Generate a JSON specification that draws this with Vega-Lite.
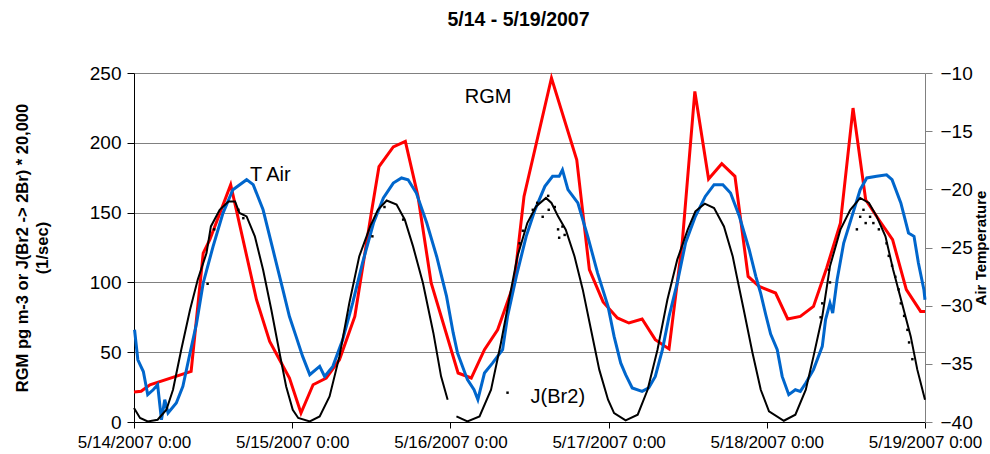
{
  "$schema": "https://vega.github.io/schema/vega-lite/v6.json",
  "width": 791,
  "height": 349,
  "autosize": {"type": "none"},
  "padding": {"left": 134, "top": 73, "right": 65, "bottom": 32},
  "background": "white",
  "config": {
    "font": "Liberation Sans",
    "view": {"stroke": null},
    "axis": {"labelFont": "Liberation Sans", "titleFont": "Liberation Sans", "labelColor": "black", "titleColor": "black"}
  },
  "title": {"text": "5/14 - 5/19/2007", "fontSize": 19.5, "fontWeight": "bold", "font": "Liberation Sans", "color": "black", "offset": 34, "dx": -11},
  "datasets": {
    "rgm": [
      {"t": "2007-05-14T00:00", "v": 21.5}, {"t": "2007-05-14T01:05", "v": 22}, {"t": "2007-05-14T02:25", "v": 26.7},
      {"t": "2007-05-14T08:40", "v": 36.2}, {"t": "2007-05-14T10:30", "v": 121}, {"t": "2007-05-14T11:30", "v": 130.6},
      {"t": "2007-05-14T14:40", "v": 170}, {"t": "2007-05-14T18:35", "v": 87.6}, {"t": "2007-05-14T20:35", "v": 57.7},
      {"t": "2007-05-14T22:05", "v": 44.6}, {"t": "2007-05-14T23:35", "v": 31.5}, {"t": "2007-05-15T01:20", "v": 6.4},
      {"t": "2007-05-15T03:10", "v": 26.7}, {"t": "2007-05-15T05:10", "v": 31.5}, {"t": "2007-05-15T07:10", "v": 44.6},
      {"t": "2007-05-15T09:30", "v": 75.6}, {"t": "2007-05-15T12:00", "v": 149.7}, {"t": "2007-05-15T13:10", "v": 183},
      {"t": "2007-05-15T15:20", "v": 197}, {"t": "2007-05-15T17:10", "v": 201}, {"t": "2007-05-15T19:05", "v": 161.6},
      {"t": "2007-05-15T21:05", "v": 99.6}, {"t": "2007-05-16T01:10", "v": 35.1}, {"t": "2007-05-16T03:10", "v": 31.5},
      {"t": "2007-05-16T05:10", "v": 51.8}, {"t": "2007-05-16T07:10", "v": 66.1}, {"t": "2007-05-16T09:40", "v": 99.6},
      {"t": "2007-05-16T11:10", "v": 161.6}, {"t": "2007-05-16T15:20", "v": 246.4}, {"t": "2007-05-16T19:10", "v": 187.9},
      {"t": "2007-05-16T21:05", "v": 109.1}, {"t": "2007-05-16T23:10", "v": 86}, {"t": "2007-05-17T01:20", "v": 74.5},
      {"t": "2007-05-17T03:05", "v": 70.9}, {"t": "2007-05-17T05:05", "v": 73.8}, {"t": "2007-05-17T07:05", "v": 59},
      {"t": "2007-05-17T09:10", "v": 52.3}, {"t": "2007-05-17T11:10", "v": 128.2}, {"t": "2007-05-17T13:05", "v": 236.8},
      {"t": "2007-05-17T15:10", "v": 174}, {"t": "2007-05-17T17:10", "v": 185}, {"t": "2007-05-17T19:10", "v": 176},
      {"t": "2007-05-17T21:10", "v": 104.3}, {"t": "2007-05-17T22:50", "v": 97.1}, {"t": "2007-05-18T01:20", "v": 92.4},
      {"t": "2007-05-18T03:10", "v": 73.8}, {"t": "2007-05-18T05:05", "v": 75.6}, {"t": "2007-05-18T07:05", "v": 82.8},
      {"t": "2007-05-18T09:05", "v": 110.3}, {"t": "2007-05-18T11:10", "v": 142.5}, {"t": "2007-05-18T13:05", "v": 224.9},
      {"t": "2007-05-18T15:00", "v": 159.2}, {"t": "2007-05-18T17:00", "v": 144.9}, {"t": "2007-05-18T19:05", "v": 130.6},
      {"t": "2007-05-18T21:10", "v": 94.8}, {"t": "2007-05-18T23:20", "v": 79.2}, {"t": "2007-05-19T00:00", "v": 79.2}
    ],
    "tair": [
      {"t": "2007-05-14T00:05", "T": -32.07}, {"t": "2007-05-14T00:35", "T": -34.65}, {"t": "2007-05-14T01:25", "T": -35.66},
      {"t": "2007-05-14T02:05", "T": -37.65}, {"t": "2007-05-14T02:55", "T": -37.23}, {"t": "2007-05-14T03:35", "T": -36.8},
      {"t": "2007-05-14T04:10", "T": -39.81}, {"t": "2007-05-14T04:40", "T": -38.08}, {"t": "2007-05-14T05:10", "T": -39.23},
      {"t": "2007-05-14T06:25", "T": -38.37}, {"t": "2007-05-14T07:25", "T": -36.94}, {"t": "2007-05-14T08:30", "T": -34.07},
      {"t": "2007-05-14T09:30", "T": -31.49}, {"t": "2007-05-14T10:30", "T": -28.05}, {"t": "2007-05-14T12:00", "T": -24.9},
      {"t": "2007-05-14T13:30", "T": -22.04}, {"t": "2007-05-14T15:00", "T": -20.03}, {"t": "2007-05-14T17:05", "T": -19.17},
      {"t": "2007-05-14T18:05", "T": -19.6}, {"t": "2007-05-14T19:35", "T": -21.76}, {"t": "2007-05-14T21:05", "T": -25.19},
      {"t": "2007-05-14T22:35", "T": -28.62}, {"t": "2007-05-14T23:35", "T": -30.93}, {"t": "2007-05-15T00:35", "T": -32.64},
      {"t": "2007-05-15T01:35", "T": -34.36}, {"t": "2007-05-15T02:40", "T": -35.93}, {"t": "2007-05-15T04:10", "T": -35.22},
      {"t": "2007-05-15T04:55", "T": -36.08}, {"t": "2007-05-15T06:10", "T": -35.22}, {"t": "2007-05-15T07:40", "T": -32.92},
      {"t": "2007-05-15T09:10", "T": -29.78}, {"t": "2007-05-15T10:40", "T": -26.33}, {"t": "2007-05-15T12:20", "T": -22.9},
      {"t": "2007-05-15T13:50", "T": -20.74}, {"t": "2007-05-15T15:20", "T": -19.46}, {"t": "2007-05-15T16:35", "T": -19.02},
      {"t": "2007-05-15T17:35", "T": -19.17}, {"t": "2007-05-15T18:50", "T": -20.32}, {"t": "2007-05-15T20:25", "T": -22.9},
      {"t": "2007-05-15T21:55", "T": -25.77}, {"t": "2007-05-15T23:25", "T": -29.2}, {"t": "2007-05-16T00:25", "T": -32.32},
      {"t": "2007-05-16T01:05", "T": -34.07}, {"t": "2007-05-16T02:35", "T": -36.36}, {"t": "2007-05-16T03:35", "T": -37.23},
      {"t": "2007-05-16T04:10", "T": -38.08}, {"t": "2007-05-16T05:10", "T": -35.79}, {"t": "2007-05-16T06:25", "T": -34.92},
      {"t": "2007-05-16T07:55", "T": -33.78}, {"t": "2007-05-16T08:40", "T": -30.93}, {"t": "2007-05-16T10:00", "T": -27.48},
      {"t": "2007-05-16T11:30", "T": -24.04}, {"t": "2007-05-16T12:50", "T": -21.76}, {"t": "2007-05-16T14:20", "T": -19.74},
      {"t": "2007-05-16T15:30", "T": -18.88}, {"t": "2007-05-16T16:30", "T": -18.88}, {"t": "2007-05-16T17:00", "T": -18.32},
      {"t": "2007-05-16T17:50", "T": -20.03}, {"t": "2007-05-16T19:20", "T": -21.17}, {"t": "2007-05-16T20:50", "T": -24.04},
      {"t": "2007-05-16T22:20", "T": -27.2}, {"t": "2007-05-16T23:55", "T": -30.06}, {"t": "2007-05-17T00:50", "T": -32.64},
      {"t": "2007-05-17T01:50", "T": -34.92}, {"t": "2007-05-17T02:35", "T": -35.93}, {"t": "2007-05-17T03:35", "T": -37.07},
      {"t": "2007-05-17T05:05", "T": -37.37}, {"t": "2007-05-17T06:05", "T": -37.07}, {"t": "2007-05-17T07:05", "T": -36.08},
      {"t": "2007-05-17T08:10", "T": -33.78}, {"t": "2007-05-17T09:10", "T": -30.93}, {"t": "2007-05-17T10:25", "T": -28.05},
      {"t": "2007-05-17T11:40", "T": -24.62}, {"t": "2007-05-17T13:10", "T": -22.32}, {"t": "2007-05-17T14:40", "T": -20.61},
      {"t": "2007-05-17T16:00", "T": -19.6}, {"t": "2007-05-17T17:20", "T": -19.6}, {"t": "2007-05-17T18:30", "T": -20.32},
      {"t": "2007-05-17T19:50", "T": -22.32}, {"t": "2007-05-17T21:20", "T": -25.19}, {"t": "2007-05-17T22:20", "T": -27.48},
      {"t": "2007-05-17T23:05", "T": -28.96}, {"t": "2007-05-17T23:50", "T": -30.76}, {"t": "2007-05-18T00:35", "T": -32.44},
      {"t": "2007-05-18T01:35", "T": -33.78}, {"t": "2007-05-18T02:20", "T": -36.08}, {"t": "2007-05-18T03:20", "T": -37.65},
      {"t": "2007-05-18T04:20", "T": -37.23}, {"t": "2007-05-18T05:05", "T": -37.37}, {"t": "2007-05-18T05:55", "T": -36.65},
      {"t": "2007-05-18T07:05", "T": -35.5}, {"t": "2007-05-18T08:25", "T": -33.5}, {"t": "2007-05-18T08:55", "T": -31.2},
      {"t": "2007-05-18T09:35", "T": -29.78}, {"t": "2007-05-18T10:00", "T": -30.63}, {"t": "2007-05-18T10:40", "T": -27.77},
      {"t": "2007-05-18T11:40", "T": -24.62}, {"t": "2007-05-18T12:55", "T": -22.32}, {"t": "2007-05-18T14:10", "T": -20.03},
      {"t": "2007-05-18T15:10", "T": -19.02}, {"t": "2007-05-18T16:40", "T": -18.88}, {"t": "2007-05-18T18:10", "T": -18.75},
      {"t": "2007-05-18T19:00", "T": -19.17}, {"t": "2007-05-18T20:20", "T": -21.17}, {"t": "2007-05-18T21:30", "T": -23.75},
      {"t": "2007-05-18T22:20", "T": -24.04}, {"t": "2007-05-18T23:00", "T": -26.33}, {"t": "2007-05-18T23:50", "T": -28.62},
      {"t": "2007-05-19T00:00", "T": -29.49}
    ],
    "jbr": [
      {"t": "2007-05-14T00:00", "v": 10, "s": 1}, {"t": "2007-05-14T00:55", "v": 2.9, "s": 1}, {"t": "2007-05-14T02:05", "v": 0.4, "s": 1},
      {"t": "2007-05-14T03:35", "v": 1.6, "s": 1}, {"t": "2007-05-14T04:55", "v": 8.8, "s": 1}, {"t": "2007-05-14T05:55", "v": 23.1, "s": 1},
      {"t": "2007-05-14T07:10", "v": 51.8, "s": 1}, {"t": "2007-05-14T08:30", "v": 80.4, "s": 1}, {"t": "2007-05-14T09:40", "v": 101.9, "s": 1},
      {"t": "2007-05-14T11:00", "v": 121, "s": 1}, {"t": "2007-05-14T11:40", "v": 140.1, "s": 1}, {"t": "2007-05-14T13:00", "v": 152, "s": 1},
      {"t": "2007-05-14T14:20", "v": 158, "s": 1}, {"t": "2007-05-14T15:20", "v": 158, "s": 1}, {"t": "2007-05-14T16:00", "v": 149.7, "s": 1},
      {"t": "2007-05-14T17:05", "v": 147.3, "s": 1}, {"t": "2007-05-14T18:20", "v": 133, "s": 1}, {"t": "2007-05-14T19:35", "v": 109.1, "s": 1},
      {"t": "2007-05-14T20:50", "v": 80.4, "s": 1}, {"t": "2007-05-14T22:05", "v": 49.4, "s": 1}, {"t": "2007-05-14T23:05", "v": 25.5, "s": 1},
      {"t": "2007-05-15T00:05", "v": 8.8, "s": 1}, {"t": "2007-05-15T00:55", "v": 2.9, "s": 1}, {"t": "2007-05-15T02:40", "v": 0.4, "s": 1},
      {"t": "2007-05-15T04:10", "v": 4, "s": 1}, {"t": "2007-05-15T05:40", "v": 18.3, "s": 1}, {"t": "2007-05-15T07:10", "v": 47, "s": 1},
      {"t": "2007-05-15T08:40", "v": 85.2, "s": 1}, {"t": "2007-05-15T10:10", "v": 118.6, "s": 1}, {"t": "2007-05-15T11:50", "v": 140.1, "s": 1},
      {"t": "2007-05-15T13:00", "v": 152, "s": 1}, {"t": "2007-05-15T14:20", "v": 158.7, "s": 1}, {"t": "2007-05-15T15:50", "v": 155.7, "s": 1},
      {"t": "2007-05-15T17:05", "v": 144.9, "s": 1}, {"t": "2007-05-15T18:20", "v": 125.8, "s": 1}, {"t": "2007-05-15T19:50", "v": 99.6, "s": 1},
      {"t": "2007-05-15T21:25", "v": 63.8, "s": 1}, {"t": "2007-05-15T22:35", "v": 32.7, "s": 1}, {"t": "2007-05-15T23:35", "v": 16, "s": 1},
      {"t": "2007-05-16T00:55", "v": 4, "s": 2}, {"t": "2007-05-16T02:35", "v": 0.4, "s": 2}, {"t": "2007-05-16T04:25", "v": 4, "s": 2},
      {"t": "2007-05-16T06:10", "v": 23.1, "s": 2}, {"t": "2007-05-16T07:40", "v": 56.6, "s": 2}, {"t": "2007-05-16T09:00", "v": 90, "s": 2},
      {"t": "2007-05-16T10:10", "v": 118.6, "s": 2}, {"t": "2007-05-16T11:40", "v": 142.5, "s": 2}, {"t": "2007-05-16T13:00", "v": 154.4, "s": 2},
      {"t": "2007-05-16T14:30", "v": 160.5, "s": 2}, {"t": "2007-05-16T15:20", "v": 156.9, "s": 2}, {"t": "2007-05-16T16:20", "v": 147.3, "s": 2},
      {"t": "2007-05-16T17:30", "v": 137.8, "s": 2}, {"t": "2007-05-16T18:50", "v": 118.6, "s": 2}, {"t": "2007-05-16T20:05", "v": 94.8, "s": 2},
      {"t": "2007-05-16T21:20", "v": 66.1, "s": 2}, {"t": "2007-05-16T22:35", "v": 37.5, "s": 2}, {"t": "2007-05-16T23:55", "v": 16, "s": 2},
      {"t": "2007-05-17T00:50", "v": 6.4, "s": 2}, {"t": "2007-05-17T02:35", "v": 1.1, "s": 2}, {"t": "2007-05-17T04:25", "v": 5.2, "s": 2},
      {"t": "2007-05-17T05:55", "v": 23.1, "s": 2}, {"t": "2007-05-17T07:25", "v": 51.8, "s": 2}, {"t": "2007-05-17T08:55", "v": 87.6, "s": 2},
      {"t": "2007-05-17T10:25", "v": 116.3, "s": 2}, {"t": "2007-05-17T12:00", "v": 137.8, "s": 2}, {"t": "2007-05-17T13:10", "v": 150.9, "s": 2},
      {"t": "2007-05-17T14:35", "v": 156.4, "s": 2}, {"t": "2007-05-17T16:00", "v": 153.3, "s": 2}, {"t": "2007-05-17T17:30", "v": 140.1, "s": 2},
      {"t": "2007-05-17T18:50", "v": 118.6, "s": 2}, {"t": "2007-05-17T19:30", "v": 103.2, "s": 2}, {"t": "2007-05-17T20:30", "v": 80.4, "s": 2},
      {"t": "2007-05-17T21:50", "v": 49.4, "s": 2}, {"t": "2007-05-17T23:05", "v": 23.1, "s": 2}, {"t": "2007-05-18T00:20", "v": 7.6, "s": 2},
      {"t": "2007-05-18T02:35", "v": 0.9, "s": 2}, {"t": "2007-05-18T04:20", "v": 5.2, "s": 2}, {"t": "2007-05-18T05:55", "v": 23.1, "s": 2},
      {"t": "2007-05-18T07:05", "v": 47, "s": 2}, {"t": "2007-05-18T08:25", "v": 75.6, "s": 2}, {"t": "2007-05-18T09:35", "v": 111.5, "s": 2},
      {"t": "2007-05-18T11:10", "v": 137.8, "s": 2}, {"t": "2007-05-18T12:40", "v": 152, "s": 2}, {"t": "2007-05-18T14:10", "v": 160.5, "s": 2},
      {"t": "2007-05-18T15:30", "v": 156.9, "s": 2}, {"t": "2007-05-18T16:40", "v": 147.3, "s": 2}, {"t": "2007-05-18T18:00", "v": 133, "s": 2},
      {"t": "2007-05-18T19:10", "v": 109.1, "s": 2}, {"t": "2007-05-18T20:30", "v": 85.2, "s": 2}, {"t": "2007-05-18T21:50", "v": 61.3, "s": 2},
      {"t": "2007-05-18T22:50", "v": 37.5, "s": 2}, {"t": "2007-05-19T00:00", "v": 16, "s": 2}
    ],
    "jnoise": [
      {"t": "2007-05-14T11:10", "v": 99}, {"t": "2007-05-14T12:10", "v": 138}, {"t": "2007-05-14T15:50", "v": 152}, {"t": "2007-05-14T16:35", "v": 146},
      {"t": "2007-05-15T12:10", "v": 133}, {"t": "2007-05-15T14:00", "v": 154}, {"t": "2007-05-15T16:50", "v": 145},
      {"t": "2007-05-16T08:40", "v": 21}, {"t": "2007-05-16T10:30", "v": 128}, {"t": "2007-05-16T11:00", "v": 137}, {"t": "2007-05-16T12:30", "v": 152},
      {"t": "2007-05-16T13:10", "v": 157}, {"t": "2007-05-16T14:00", "v": 147}, {"t": "2007-05-16T14:50", "v": 162}, {"t": "2007-05-16T14:55", "v": 152},
      {"t": "2007-05-16T15:50", "v": 154}, {"t": "2007-05-16T16:20", "v": 138}, {"t": "2007-05-16T16:30", "v": 132}, {"t": "2007-05-16T17:00", "v": 140},
      {"t": "2007-05-16T17:20", "v": 134},
      {"t": "2007-05-18T08:10", "v": 75}, {"t": "2007-05-18T08:25", "v": 85}, {"t": "2007-05-18T09:25", "v": 109}, {"t": "2007-05-18T09:35", "v": 100},
      {"t": "2007-05-18T13:40", "v": 138}, {"t": "2007-05-18T14:10", "v": 147}, {"t": "2007-05-18T14:40", "v": 152}, {"t": "2007-05-18T15:00", "v": 142.5},
      {"t": "2007-05-18T15:40", "v": 147}, {"t": "2007-05-18T16:10", "v": 142.5}, {"t": "2007-05-18T17:00", "v": 138}, {"t": "2007-05-18T18:10", "v": 128},
      {"t": "2007-05-18T18:30", "v": 119}, {"t": "2007-05-18T19:00", "v": 112}, {"t": "2007-05-18T19:30", "v": 104}, {"t": "2007-05-18T20:00", "v": 95},
      {"t": "2007-05-18T20:20", "v": 85}, {"t": "2007-05-18T20:50", "v": 76}, {"t": "2007-05-18T21:20", "v": 66}, {"t": "2007-05-18T21:35", "v": 57},
      {"t": "2007-05-18T22:05", "v": 45}
    ],
    "labels": [
      {"t": "2007-05-14T17:35", "v": 177, "label": "T Air"},
      {"t": "2007-05-16T02:10", "v": 233, "label": "RGM"},
      {"t": "2007-05-16T12:10", "v": 18, "label": "J(Br2)"}
    ]
  },
  "encoding": {
    "x": {
      "field": "t", "type": "temporal",
      "scale": {"domain": [{"year": 2007, "month": 5, "date": 14}, {"year": 2007, "month": 5, "date": 19}], "nice": false},
      "axis": {
        "title": null,
        "values": [
          {"year": 2007, "month": 5, "date": 14}, {"year": 2007, "month": 5, "date": 15}, {"year": 2007, "month": 5, "date": 16},
          {"year": 2007, "month": 5, "date": 17}, {"year": 2007, "month": 5, "date": 18}, {"year": 2007, "month": 5, "date": 19}
        ],
        "format": "%-m/%-d/%Y %-H:%M",
        "labelFontSize": 17, "labelFlush": false, "labelOverlap": false,
        "tickSize": 6, "tickColor": "black", "domainColor": "black", "labelPadding": 6,
        "grid": false
      }
    }
  },
  "layer": [
    {
      "data": {"name": "rgm"},
      "mark": {"type": "line", "color": "#FF0000", "strokeWidth": 3},
      "encoding": {
        "y": {
          "field": "v", "type": "quantitative",
          "scale": {"domain": [0, 250], "nice": false, "zero": false},
          "axis": {
            "title": ["RGM  pg m-3 or  J(Br2 -> 2Br) * 20,000", "(1/sec)"],
            "titleFontSize": 16.5, "titleFontWeight": "bold", "titlePadding": 39, "titleLineHeight": 20,
            "values": [0, 50, 100, 150, 200, 250],
            "labelFontSize": 19, "tickSize": 7, "labelPadding": 6,
            "tickColor": "black", "domainColor": "black",
            "grid": true, "gridColor": "#808080", "gridWidth": 1, "gridOpacity": 1
          }
        }
      }
    },
    {
      "data": {"name": "tair"},
      "mark": {"type": "line", "color": "#0066CC", "strokeWidth": 3},
      "encoding": {
        "y": {
          "field": "T", "type": "quantitative",
          "scale": {"domain": [-40, -10], "nice": false, "zero": false},
          "axis": {
            "orient": "right",
            "title": "Air Temperature",
            "titleFontSize": 15, "titleFontWeight": "bold", "titleAngle": -90, "titleBaseline": "top", "titlePadding": 1,
            "values": [-40, -35, -30, -25, -20, -15, -10],
            "labelFontSize": 19, "tickSize": 7, "labelPadding": 8,
            "tickColor": "#808080", "domainColor": "#808080",
            "grid": false
          }
        }
      }
    },
    {
      "layer": [
        {
          "data": {"name": "jbr"},
          "mark": {"type": "line", "color": "black", "strokeWidth": 2},
          "encoding": {"detail": {"field": "s", "type": "nominal"}}
        },
        {
          "data": {"name": "jnoise"},
          "mark": {"type": "point", "shape": "square", "filled": true, "color": "black", "size": 6, "opacity": 1}
        },
        {
          "data": {"name": "labels"},
          "mark": {"type": "text", "align": "left", "baseline": "middle", "fontSize": 20, "font": "Liberation Sans", "color": "black"},
          "encoding": {"text": {"field": "label"}}
        }
      ],
      "encoding": {
        "y": {
          "field": "v", "type": "quantitative",
          "scale": {"domain": [0, 250], "nice": false, "zero": false},
          "axis": null
        }
      }
    }
  ],
  "resolve": {"scale": {"y": "independent"}, "axis": {"y": "independent"}}
}
